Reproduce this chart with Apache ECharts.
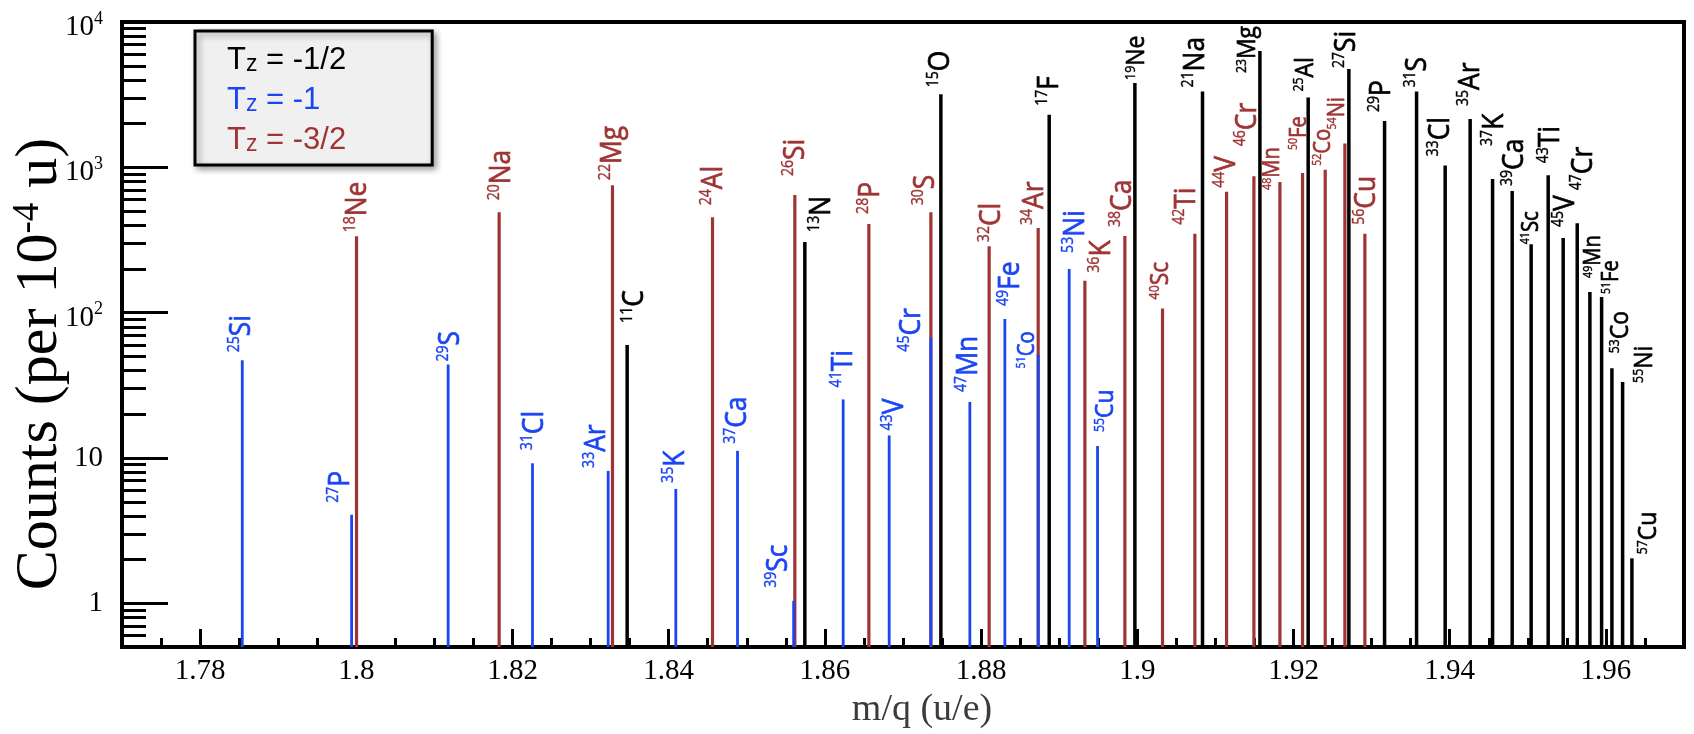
<!DOCTYPE html>
<html>
<head>
<meta charset="utf-8">
<script src="https://cdn.jsdelivr.net/npm/echarts@6/dist/echarts.min.js"></script>
<style>
  html, body { margin: 0; padding: 0; background: #fff; }
  #chart { width: 1694px; height: 734px; }
</style>
</head>
<body>
<div id="chart"></div>
<script>
// Tz = -1/2 (black)
const halfNames = ['11C', '13N', '15O', '17F', '19Ne', '21Na', '23Mg', '25Al', '27Si', '29P', '31S', '33Cl',
  '35Ar', '37K', '39Ca', '41Sc', '43Ti', '45V', '47Cr', '49Mn', '51Fe', '53Co', '55Ni', '57Cu'];
const halfMq = [1.83468, 1.85743, 1.87485, 1.88872, 1.89969, 1.90835, 1.9157, 1.92188, 1.92709, 1.93166, 1.93576, 1.93942,
  1.94262, 1.94549, 1.948, 1.95043, 1.95261, 1.95453, 1.95633, 1.95795, 1.95945, 1.96077, 1.96214, 1.96333];
const halfCounts = [60, 307, 3180, 2300, 3810, 3320, 6310, 3020, 4750, 2080, 3320, 1030,
  2150, 832, 687, 296, 881, 326, 412, 139, 128, 41.5, 33.4, 2.04];

// Tz = -1 (blue)
const oneNames = ['25Si', '27P', '29S', '31Cl', '33Ar', '35K', '37Ca', '39Sc', '41Ti', '43V', '45Cr', '47Mn',
  '49Fe', '51Co', '53Ni', '55Cu'];
const oneMq = [1.7854, 1.7994, 1.81176, 1.82256, 1.83225, 1.84091, 1.84881, 1.856, 1.86234, 1.86823, 1.87357, 1.87856,
  1.88304, 1.88731, 1.89128, 1.89491];
const oneCounts = [47, 4.07, 44, 9.2, 8.15, 6.13, 11.2, 1.04, 25.3, 14.3, 67.3, 24.3,
  90.5, 51.6, 200, 12.1];

// Tz = -3/2 (red)
const threeHalfNames = ['18Ne', '20Na', '22Mg', '24Al', '26Si', '28P', '30S', '32Cl', '34Ar', '36K', '38Ca', '40Sc',
  '42Ti', '44V', '46Cr', '48Mn', '50Fe', '52Co', '54Ni', '56Cu'];
const threeHalfMq = [1.80003, 1.81829, 1.8328, 1.84561, 1.85615, 1.86563, 1.87357, 1.88103, 1.88731, 1.89329, 1.89841, 1.90323,
  1.90737, 1.91143, 1.91493, 1.91826, 1.92116, 1.92406, 1.92658, 1.92914];
const threeHalfCounts = [335, 490, 754, 453, 645, 408, 490, 287, 382, 166, 337, 107,
  349, 679, 867, 794, 914, 963, 1460, 349];

// axis ticks
const xMajorTicks = [1.78, 1.8, 1.82, 1.84, 1.86, 1.88, 1.9, 1.92, 1.94, 1.96];
const yMajorTicks = [1, 10, 100, 1000, 10000];
const yMinorTicks = [0.6, 0.7, 0.8, 0.9, 2, 3, 4, 5, 6, 7, 8, 9, 20, 30, 40, 50, 60, 70, 80, 90,
  200, 300, 400, 500, 600, 700, 800, 900, 2000, 3000, 4000, 5000, 6000, 7000, 8000, 9000];

const NAME_HALF = 'Tz = -1/2', NAME_ONE = 'Tz = -1', NAME_THREE_HALF = 'Tz = -3/2';
const BLACK = '#000000', BLUE = '#1b45f3', RED = '#9e3434';
const Y_MIN = 0.5;
const FONT = "'Open Sans', 'Noto Sans', sans-serif";
const SERIF = "'Liberation Serif', 'DejaVu Serif', serif";
const SANS = "'Liberation Sans', Arial, sans-serif";

// label nudges: [dx, gap above line top, size]
const LABEL_SIZE = { L: [30, 16], M: [26, 14], S: [23, 12] };
const LABEL_SQUEEZE = 0.88;
const labelPlace = {
  '25Si': [-1, 8], '27P': [-11, 12], '29S': [2, 3], '31Cl': [2, 13], '33Ar': [-12, 3], '35K': [0, 6],
  '37Ca': [0, 7], '39Sc': [-15, 13], '41Ti': [0, 12], '43V': [5, 5], '45Cr': [-19, -14], '47Mn': [-1, 10],
  '49Fe': [6, 13], '51Co': [-11, -14, 'S'], '53Ni': [6, 16], '55Cu': [8, 14, 'M'],
  '18Ne': [1, 4], '20Na': [2, 12], '22Mg': [0, 5], '24Al': [1, 12], '26Si': [1, 19], '28P': [2, 10],
  '30S': [-5, 7], '32Cl': [2, 4], '34Ar': [-4, 3], '36K': [17, 8], '38Ca': [-2, 9], '40Sc': [-2, 9, 'M'],
  '42Ti': [-8, 9], '44V': [0, 4], '46Cr': [-6, 30], '48Mn': [-7, -8, 'S'], '50Fe': [-3, 23, 'S'],
  '52Co': [-2, 4, 'S'], '54Ni': [-7, 14, 'S'], '56Cu': [2, 9],
  '11C': [7, 22], '13N': [17, 10], '15O': [0, 7], '17F': [0, 9], '19Ne': [2, 3, 'M'], '21Na': [-7, 4],
  '23Mg': [-12, -22, 'M'], '25Al': [-3, 6, 'M'], '27Si': [-2, 1], '29P': [-3, 9], '31S': [1, 4],
  '33Cl': [-5, 9], '35Ar': [0, 13], '37K': [2, 33], '39Ca': [2, 5], '41Sc': [0, 0, 'S'], '43Ti': [2, 12],
  '45V': [2, 11], '47Cr': [6, 33], '49Mn': [4, 14, 'S'], '51Fe': [10, 3, 'S'], '53Co': [9, 15, 'M'],
  '55Ni': [22, -1, 'M'], '57Cu': [17, 4, 'M']
};

function peakSeries(seriesName, names, mq, counts, color, barW) {
  return {
    type: 'custom',
    name: seriesName,
    coordinateSystem: 'cartesian2d',
    silent: true,
    data: mq.map((m, i) => [m, counts[i]]),
    encode: { x: 0, y: 1 },
    renderItem: (params, api) => {
      const i = params.dataIndex;
      const x = api.value(0);
      const top = api.coord([x, api.value(1)]);
      const base = api.coord([x, Y_MIN]);
      const parts = names[i].match(/^(\d+)(\D+)$/);
      const p = labelPlace[names[i]] || [];
      const dx = p[0] || 0;
      const gap = p[1] == null ? 8 : p[1];
      const sz = LABEL_SIZE[p[2] || 'L'];
      return {
        type: 'group',
        children: [
          {
            type: 'rect',
            shape: { x: top[0] - barW / 2, y: top[1], width: barW, height: base[1] - top[1] },
            style: { fill: color }
          },
          {
            type: 'text',
            x: top[0] + dx,
            y: top[1] - gap,
            rotation: Math.PI / 2,
            scaleX: LABEL_SQUEEZE,
            style: {
              text: '{m|' + parts[1] + '}{e|' + parts[2] + '}',
              fill: color,
              align: 'left',
              verticalAlign: 'middle',
              rich: {
                m: { fontSize: sz[1], fontFamily: FONT, fill: color, stroke: color, lineWidth: 0.4, verticalAlign: 'top' },
                e: { fontSize: sz[0], fontFamily: FONT, fill: color, stroke: color, lineWidth: 0.7 }
              }
            }
          }
        ]
      };
    }
  };
}

const legendText = {};
legendText[NAME_HALF] = '{tk|T}{zk|z}{tk| = -1/2}';
legendText[NAME_ONE] = '{tb|T}{zb|z}{tb| = -1}';
legendText[NAME_THREE_HALF] = '{tr|T}{zr|z}{tr| = -3/2}';
const legendRich = {};
[['k', BLACK], ['b', BLUE], ['r', RED]].forEach(([k, c]) => {
  legendRich['t' + k] = { fontSize: 31, fontFamily: SANS, color: c };
  legendRich['z' + k] = { fontSize: 23, fontFamily: SANS, color: c, verticalAlign: 'bottom' };
});

const chart = echarts.init(document.getElementById('chart'));
chart.setOption({
  animation: false,
  backgroundColor: '#fff',
  grid: { left: 122, right: 10, top: 22, bottom: 78, show: true, borderColor: '#000', borderWidth: 4, backgroundColor: 'transparent' },
  legend: {
    data: [
      { name: NAME_HALF, textStyle: { color: BLACK } },
      { name: NAME_ONE, textStyle: { color: BLUE } },
      { name: NAME_THREE_HALF, textStyle: { color: RED } }
    ],
    orient: 'vertical',
    left: 195,
    top: 31,
    itemWidth: 0,
    itemHeight: 0,
    itemGap: 9,
    padding: [14, 86, 9, 27],
    backgroundColor: '#f0f0f0',
    borderColor: '#000',
    borderWidth: 3,
    shadowBlur: 6,
    shadowColor: 'rgba(0,0,0,0.35)',
    shadowOffsetX: 3,
    shadowOffsetY: 3,
    selectedMode: false,
    formatter: name => legendText[name],
    textStyle: { fontSize: 31, rich: legendRich }
  },
  graphic: [
    {
      type: 'text',
      x: 40,
      y: 364,
      rotation: Math.PI / 2,
      silent: true,
      style: {
        text: '{a|Counts (per 10}{s|-4}{a| u)}',
        align: 'center',
        verticalAlign: 'middle',
        fill: '#000',
        rich: {
          a: { fontFamily: SERIF, fontSize: 60, fill: '#000' },
          s: { fontFamily: SERIF, fontSize: 37, fill: '#000', verticalAlign: 'top' }
        }
      }
    }
  ],
  xAxis: [
    {
      type: 'value',
      min: 1.77,
      max: 1.97,
      interval: 0.005,
      axisLine: { show: true, onZero: false, lineStyle: { color: '#000', width: 4 } },
      axisTick: { show: true, inside: true, length: 9, lineStyle: { color: '#000', width: 3 } },
      axisLabel: {
        margin: 10,
        color: '#000',
        fontFamily: SERIF,
        fontSize: 29,
        formatter: v => {
          const k = v / 0.02;
          return Math.abs(k - Math.round(k)) < 1e-6 ? String(+v.toFixed(2)) : '';
        }
      },
      splitLine: { show: false },
      name: 'm/q (u/e)',
      nameLocation: 'middle',
      nameGap: 33,
      nameTextStyle: { fontFamily: SERIF, fontSize: 38, color: '#3c3c3c', padding: [0, 0, 0, 38] }
    },
    {
      type: 'value',
      min: 1.77,
      max: 1.97,
      position: 'bottom',
      axisLine: { show: false },
      axisTick: { show: true, inside: true, length: 18, lineStyle: { color: '#000', width: 3 }, customValues: xMajorTicks },
      axisLabel: { show: false },
      splitLine: { show: false }
    }
  ],
  yAxis: [
    {
      type: 'log',
      logBase: 10,
      min: Y_MIN,
      max: 10000,
      axisLine: { show: true, onZero: false, lineStyle: { color: '#000', width: 4 } },
      axisTick: { show: true, inside: true, length: 46, lineStyle: { color: '#000', width: 3 }, customValues: yMajorTicks },
      minorTick: { show: false },
      axisLabel: {
        customValues: yMajorTicks,
        margin: 19,
        color: '#000',
        formatter: v => {
          const e = Math.round(Math.log10(v));
          if (Math.abs(Math.pow(10, e) - v) > 1e-6 * v) return '';
          if (e === 0) return '{p|1}';
          if (e === 1) return '{p|10}';
          return '{b|10}{s|' + e + '}';
        },
        rich: {
          p: { fontFamily: SERIF, fontSize: 29, color: '#000' },
          b: { fontFamily: SERIF, fontSize: 29, color: '#000', lineHeight: 40, verticalAlign: 'bottom' },
          s: { fontFamily: SERIF, fontSize: 18, color: '#000', verticalAlign: 'top', padding: [8, 0, 0, 0] }
        }
      },
      splitLine: { show: false }
    },
    {
      type: 'log',
      logBase: 10,
      min: Y_MIN,
      max: 10000,
      position: 'left',
      axisLine: { show: false },
      axisTick: { show: true, inside: true, length: 24, lineStyle: { color: '#000', width: 3 }, customValues: yMinorTicks },
      axisLabel: { show: false },
      splitLine: { show: false }
    }
  ],
  series: [
    peakSeries(NAME_HALF, halfNames, halfMq, halfCounts, BLACK, 3.5),
    peakSeries(NAME_THREE_HALF, threeHalfNames, threeHalfMq, threeHalfCounts, RED, 3.2),
    peakSeries(NAME_ONE, oneNames, oneMq, oneCounts, BLUE, 2.8)
  ]
});
</script>
</body>
</html>
